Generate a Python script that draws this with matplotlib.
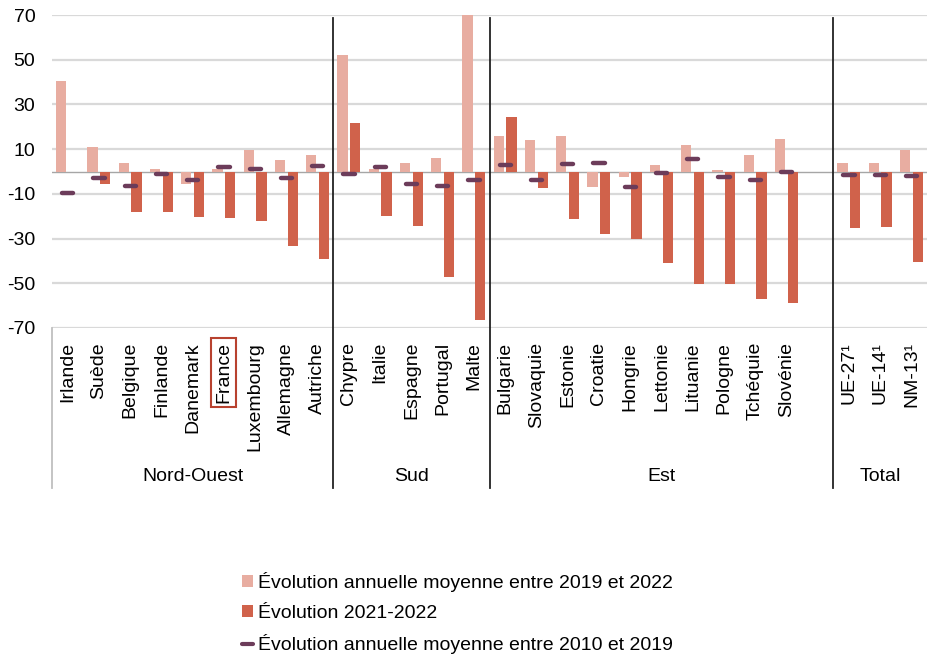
import matplotlib
matplotlib.use("Agg")
import matplotlib.pyplot as plt
import numpy as np
from matplotlib.patches import Patch
from matplotlib.lines import Line2D

plt.rcParams['font.family'] = ['Liberation Sans', 'DejaVu Sans']

categories = ['Irlande', 'Suède', 'Belgique', 'Finlande', 'Danemark', 'France',
              'Luxembourg', 'Allemagne', 'Autriche',
              'Chypre', 'Italie', 'Espagne', 'Portugal', 'Malte',
              'Bulgarie', 'Slovaquie', 'Estonie', 'Croatie', 'Hongrie', 'Lettonie',
              'Lituanie', 'Pologne', 'Tchéquie', 'Slovénie',
              'UE-27¹', 'UE-14¹', 'NM-13¹']
group_names = ['Nord-Ouest', 'Sud', 'Est', 'Total']
group_sizes = [9, 5, 10, 3]
group_extra_slots = [0, 0, 1, 0]  # empty slot after "Est"

evo_2019_2022 = [40.5, 11.0, 3.6, 1.2, -5.7, 1.0, 9.5, 5.2, 7.3,
                 52.2, 1.0, 3.6, 6.0, 75.0,
                 15.9, 14.2, 15.9, -6.9, -2.5, 3.1, 11.9, 0.6, 7.5, 14.5,
                 3.7, 3.6, 9.7]
evo_2021_2022 = [-0.4, -5.4, -17.9, -18.3, -20.4, -20.6, -22.1, -33.5, -39.2,
                 21.6, -20.0, -24.3, -47.2, -66.3,
                 24.3, -7.5, -21.2, -28.0, -30.3, -41.0, -50.2, -50.2, -57.1, -58.6,
                 -25.2, -24.6, -40.4]
evo_2010_2019 = [-9.7, -2.7, -6.7, -1.2, -3.6, 2.1, 0.9, -3.1, 2.5,
                 -1.2, 1.9, -5.5, -6.3, -3.7,
                 3.1, -3.7, 3.4, 4.0, -7.0, -0.6, 5.7, -2.5, -3.7, 0.0,
                 -1.6, -1.6, -1.9]
yticks = [70, 50, 30, 10, -10, -30, -50, -70]
highlight = 'France'

c_light = '#E8ADA1'
c_dark = '#D0624B'
c_mark = '#6C3C5A'

# slot positions
positions = []
group_bounds = []
pos = 0
for size, extra in zip(group_sizes, group_extra_slots):
    start = pos
    positions.extend(range(pos, pos + size))
    pos += size + extra
    group_bounds.append((start - 0.5, pos - 0.5))
positions = np.array(positions, dtype=float)
n_slots = pos

fig = plt.figure(figsize=(9.27, 6.56), dpi=100)
ax = fig.add_axes([52 / 927, 0.5, 1 - 52 / 927, 0.4771])

w = 0.33
off = 0.205
ax.bar(positions - off, evo_2019_2022, width=w, color=c_light, zorder=3)
ax.bar(positions + off, evo_2021_2022, width=w, color=c_dark, zorder=3)
ax.hlines(evo_2010_2019, positions - 0.18, positions + 0.18, colors=c_mark,
          lw=3.2, capstyle='round', zorder=4)

ax.set_xlim(-0.5, n_slots - 0.5)
ax.set_ylim(-70, 70)
ax.set_yticks(yticks)
ax.set_yticklabels([str(v) for v in yticks], fontsize=14)
ax.yaxis.grid(True, color='#D9D9D9', lw=1.6, zorder=0)
ax.set_axisbelow(True)
ax.axhline(0, color='#A6A6A6', lw=1.0, zorder=2)
for s in ax.spines.values():
    s.set_visible(False)
ax.tick_params(axis='y', length=0, pad=12)
ax.tick_params(axis='x', length=0, pad=10)
ax.set_xticks(positions)
ax.set_xticklabels(categories, rotation=90, fontsize=14, va='top', ha='center')
for lab in ax.get_xticklabels():
    if lab.get_text() == highlight:
        lab.set_bbox(dict(boxstyle='square,pad=0.2', fc='none', ec='#B8422F', lw=1.5))

trans = ax.get_xaxis_transform()
# separators
for (a, b) in group_bounds[1:]:
    ax.plot([a, a], [0.991, -0.511], color='#222222', lw=1.3, transform=trans,
            clip_on=False, zorder=5)
ax.plot([-0.5, -0.5], [0.0, -0.511], color='#BFBFBF', lw=1.3, transform=trans,
        clip_on=False)
for name, (a, b) in zip(group_names, group_bounds):
    ax.text((a + b) / 2, -0.476, name, transform=trans, ha='center', va='center',
            fontsize=14)

handles = [Patch(facecolor=c_light, edgecolor='none'),
           Patch(facecolor=c_dark, edgecolor='none'),
           Line2D([], [], color=c_mark, lw=3.0, solid_capstyle='round')]
labels = ['Évolution annuelle moyenne entre 2019 et 2022',
          'Évolution 2021-2022',
          'Évolution annuelle moyenne entre 2010 et 2019']
fig.legend(handles, labels, loc='upper left', bbox_to_anchor=(242 / 927, 1 - 572 / 656),
           frameon=False, fontsize=14, handlelength=0.55, handleheight=0.55,
           handletextpad=0.25, borderpad=0, borderaxespad=0, labelspacing=0.65)

fig.savefig('out.png', dpi=100)
